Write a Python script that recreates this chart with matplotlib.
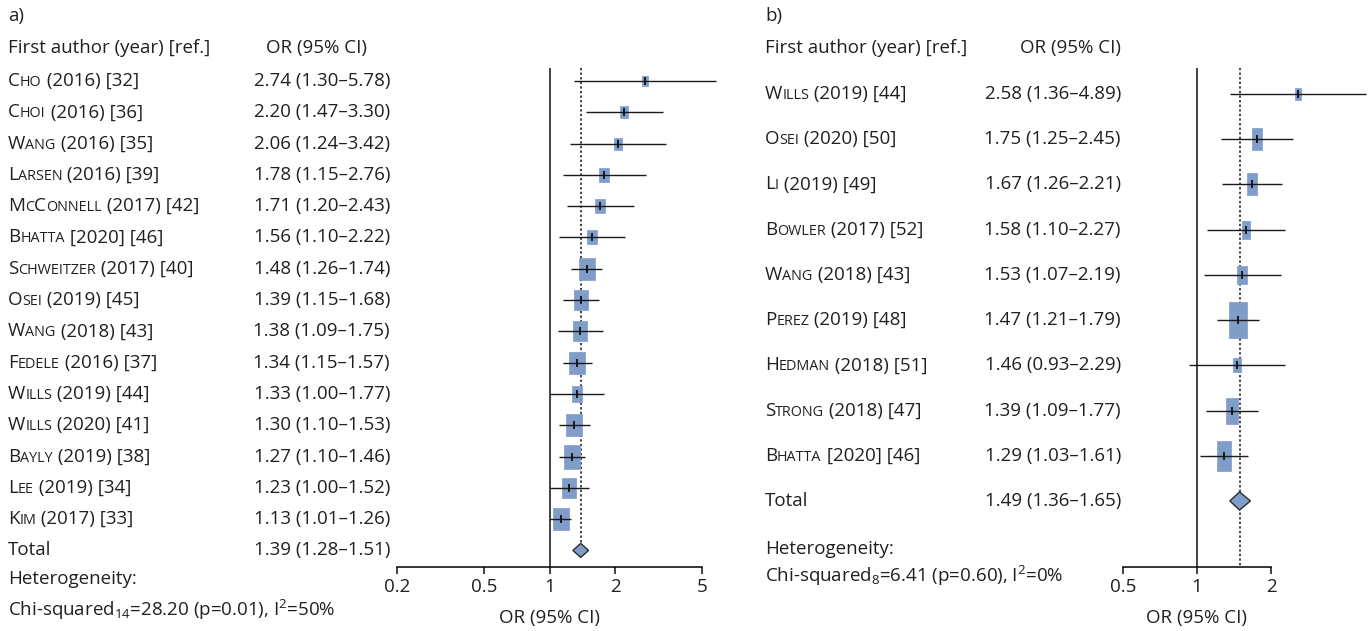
import matplotlib
matplotlib.use('Agg')
import matplotlib.pyplot as plt
import numpy as np
from matplotlib.offsetbox import TextArea, HPacker, AnnotationBbox
from matplotlib.transforms import blended_transform_factory
from matplotlib.path import Path
from matplotlib.ticker import NullLocator

plt.rcParams['font.family'] = ['Open Sans', 'DejaVu Sans']
plt.rcParams['mathtext.fontset'] = 'custom'
plt.rcParams['mathtext.rm'] = 'Open Sans'
plt.rcParams['mathtext.it'] = 'Open Sans'
plt.rcParams['mathtext.bf'] = 'Open Sans'

# ---- panel a data
names_a = ['Cho', 'Choi', 'Wang', 'Larsen', 'McConnell', 'Bhatta', 'Schweitzer', 'Osei',
           'Wang', 'Fedele', 'Wills', 'Wills', 'Bayly', 'Lee', 'Kim']
refs_a = [' (2016) [32]', ' (2016) [36]', ' (2016) [35]', ' (2016) [39]', ' (2017) [42]',
          ' [2020] [46]', ' (2017) [40]', ' (2019) [45]', ' (2018) [43]', ' (2016) [37]',
          ' (2019) [44]', ' (2020) [41]', ' (2019) [38]', ' (2019) [34]', ' (2017) [33]']
or_a = [2.74, 2.20, 2.06, 1.78, 1.71, 1.56, 1.48, 1.39, 1.38, 1.34, 1.33, 1.30, 1.27, 1.23, 1.13]
lo_a = [1.30, 1.47, 1.24, 1.15, 1.20, 1.10, 1.26, 1.15, 1.09, 1.15, 1.00, 1.10, 1.10, 1.00, 1.01]
hi_a = [5.78, 3.30, 3.42, 2.76, 2.43, 2.22, 1.74, 1.68, 1.75, 1.57, 1.77, 1.53, 1.46, 1.52, 1.26]
weight_a = [1.9, 2.8, 2.8, 4.2, 4.2, 4.2, 10.2, 7.6, 7.6, 10.2, 4.6, 9.7, 12.1, 7.6, 10.2]
total_a = [1.39, 1.28, 1.51]
chi_a = r'Chi-squared$_{14}$=28.20 (p=0.01), I$^{2}$=50%'

# ---- panel b data
names_b = ['Wills', 'Osei', 'Li', 'Bowler', 'Wang', 'Perez', 'Hedman', 'Strong', 'Bhatta']
refs_b = [' (2019) [44]', ' (2020) [50]', ' (2019) [49]', ' (2017) [52]', ' (2018) [43]',
          ' (2019) [48]', ' (2018) [51]', ' (2018) [47]', ' [2020] [46]']
or_b = [2.58, 1.75, 1.67, 1.58, 1.53, 1.47, 1.46, 1.39, 1.29]
lo_b = [1.36, 1.25, 1.26, 1.10, 1.07, 1.21, 0.93, 1.09, 1.03]
hi_b = [4.89, 2.45, 2.21, 2.27, 2.19, 1.79, 2.29, 1.77, 1.61]
weight_b = [2.6, 9.4, 10.4, 6.5, 7.3, 26.2, 4.5, 14.5, 18.6]
total_b = [1.49, 1.36, 1.65]
chi_b = r'Chi-squared$_{8}$=6.41 (p=0.60), I$^{2}$=0%'

W, H = 1369, 631
fig = plt.figure(figsize=(W / 100, H / 100), dpi=100)

def fx(px):
    return px / W

def fy(py):
    return 1 - py / H

TXT = '#231f20'
BLUE = '#809dca'
FS = 13.5
SC = 0.77


def name_box(name, rest):
    # fake small caps: capitals full size, lower case as small capitals
    parts = []
    run, big = '', None
    for ch in name:
        b = ch.isupper()
        if big is None or b == big:
            run += ch
        else:
            parts.append((run, big))
            run = ch
        big = b
    parts.append((run, big))
    kids = []
    for s, b in parts:
        kids.append(TextArea(s.upper(), textprops=dict(fontsize=FS if b else FS * SC, color=TXT)))
    kids.append(TextArea(rest, textprops=dict(fontsize=FS, color=TXT)))
    return HPacker(children=kids, align='baseline', pad=0, sep=0)


def rect_marker(r):
    return Path([(-1 / r, -1), (1 / r, -1), (1 / r, 1), (-1 / r, 1), (-1 / r, -1)], closed=True)


def forest(ax, names, refs, ors, los, his, weights, total, k, aspect, dhalf, x_name,
           x_val, dotted_to_axis, ylim, xlim, ticks):
    n = len(ors)
    rows = np.arange(n)
    ax.set_xscale('log')
    ax.set_xlim(*xlim)
    ax.set_ylim(*ylim)
    ax.axvline(1, color='#111111', lw=1.1, zorder=1)
    top = ylim[1]
    bottom = ylim[0] if dotted_to_axis else n - dhalf
    ax.plot([total[0], total[0]], [top, bottom], color='#111111', lw=1.1,
            ls=(0, (1.5, 1.5)), zorder=1)
    mk = rect_marker(aspect)
    for i in rows:
        h = k * np.sqrt(weights[i]) * 0.72
        ax.plot(ors[i], i, marker=mk, ms=h, color=BLUE, mec=BLUE, mew=0.5, ls='none', zorder=2)
    ax.hlines(rows, los, his, color='#1a1a1a', lw=1.0, zorder=3)
    ax.plot(ors, rows, marker='|', ms=6, mew=1.3, color='#111111', ls='none', zorder=4)
    ax.fill([total[1], total[0], total[2], total[0]], [n, n - dhalf, n, n + dhalf],
            facecolor=BLUE, edgecolor='#2b2b2b', lw=1.0, zorder=5)

    for s in ['top', 'right', 'left']:
        ax.spines[s].set_visible(False)
    ax.spines['bottom'].set_bounds(ticks[0], ticks[-1])
    ax.spines['bottom'].set_linewidth(1.1)
    ax.set_xticks(ticks)
    ax.set_xticklabels([f'{t:g}' for t in ticks])
    ax.xaxis.set_minor_locator(NullLocator())
    ax.set_yticks([])
    ax.tick_params(axis='x', length=5, width=1.1, pad=3, labelsize=FS, colors='#111111',
                   labelcolor=TXT)
    ax.patch.set_visible(False)
    ax.annotate('OR (95% CI)', xy=(1, 0), xycoords=('data', 'axes fraction'),
                xytext=(0, -51 * 0.72), textcoords='offset points', ha='center', va='center',
                fontsize=FS, color=TXT, annotation_clip=False)

    tr = blended_transform_factory(fig.transFigure, ax.transData)
    for i in rows:
        ab = AnnotationBbox(name_box(names[i], refs[i]), (fx(x_name), i), xycoords=tr,
                            box_alignment=(0, 0.5), frameon=False, pad=0, annotation_clip=False)
        fig.add_artist(ab)
        fig.text(fx(x_val), i, f'{ors[i]:.2f} ({los[i]:.2f}–{his[i]:.2f})', transform=tr,
                 ha='right', va='center', fontsize=FS, color=TXT)
    fig.text(fx(x_name), n, 'Total', transform=tr, ha='left', va='center', fontsize=FS, color=TXT)
    fig.text(fx(x_val), n, f'{total[0]:.2f} ({total[1]:.2f}–{total[2]:.2f})', transform=tr,
             ha='right', va='center', fontsize=FS, color=TXT)


# panel a: rows at 81 + 31.3*i px, axis line at 567 px
ax_a = fig.add_axes([fx(397), fy(567), fx(322.3), 499 / H])
forest(ax_a, names_a, refs_a, or_a, lo_a, hi_a, weight_a, total_a, k=7.0, aspect=1.45,
       dhalf=0.224, x_name=8, x_val=390, dotted_to_axis=False,
       ylim=(15.53, -0.415), xlim=(0.2, 6.0), ticks=[0.2, 0.5, 1, 2, 5])

# panel b: rows at 94 + 45.2*i px
ax_b = fig.add_axes([fx(1123), fy(567), fx(245.8), 499 / H])
forest(ax_b, names_b, refs_b, or_b, lo_b, hi_b, weight_b, total_b, k=7.0, aspect=2.1,
       dhalf=0.2, x_name=765, x_val=1121, dotted_to_axis=True,
       ylim=(10.46, -0.575), xlim=(0.5, 5.0), ticks=[0.5, 1, 2])

# headers and footers
fig.text(fx(8), fy(16), 'a)', va='center', fontsize=FS, color=TXT)
fig.text(fx(8), fy(48), 'First author (year) [ref.]', va='center', fontsize=FS, color=TXT)
fig.text(fx(317), fy(48), 'OR (95% CI)', va='center', ha='center', fontsize=FS, color=TXT)
fig.text(fx(8), fy(579), 'Heterogeneity:', va='center', fontsize=FS, color=TXT)
fig.text(fx(8), fy(610), chi_a, va='center', fontsize=FS, color=TXT)

fig.text(fx(765), fy(16), 'b)', va='center', fontsize=FS, color=TXT)
fig.text(fx(765), fy(48), 'First author (year) [ref.]', va='center', fontsize=FS, color=TXT)
fig.text(fx(1121), fy(48), 'OR (95% CI)', va='center', ha='right', fontsize=FS, color=TXT)
fig.text(fx(765), fy(549), 'Heterogeneity:', va='center', fontsize=FS, color=TXT)
fig.text(fx(765), fy(576), chi_b, va='center', fontsize=FS, color=TXT)

fig.savefig('out.png', dpi=100)
